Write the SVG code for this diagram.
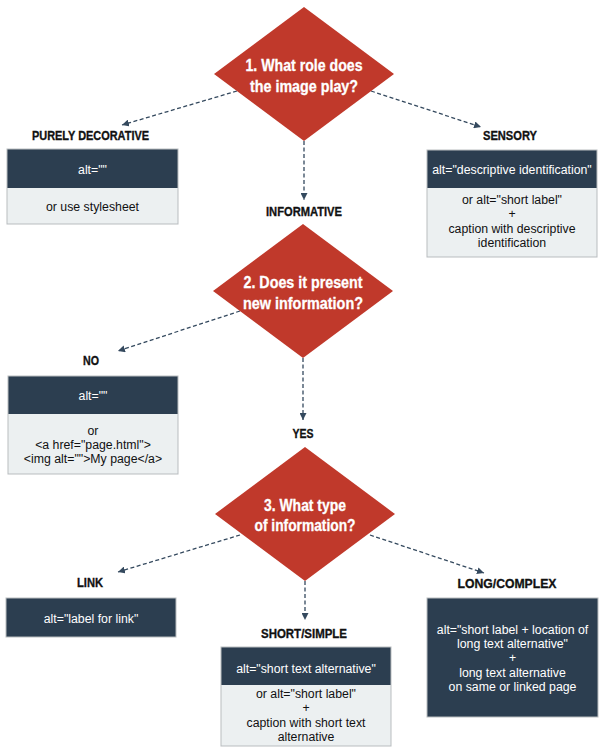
<svg xmlns="http://www.w3.org/2000/svg" width="605" height="749" viewBox="0 0 605 749">
<style>
.dia{fill:#c0392b}
.q{font-family:"Liberation Sans",Arial,sans-serif;font-weight:bold;font-size:16px;fill:#ffffff;stroke:#ffffff;stroke-width:0.3;text-anchor:middle}
.lbl{font-family:"Liberation Sans",Arial,sans-serif;font-weight:bold;font-size:13.5px;fill:#111111;stroke:#111111;stroke-width:0.35;text-anchor:middle}
.hd{fill:#2c3e50}
.bd{fill:#ecf0f1}
.frame{fill:none;stroke:#b9bdbf;stroke-width:1}
.wt{font-family:"Liberation Sans",Arial,sans-serif;font-size:12.3px;fill:#ffffff;text-anchor:middle}
.bt{font-family:"Liberation Sans",Arial,sans-serif;font-size:12.3px;fill:#111111;text-anchor:middle}
.con{fill:none;stroke:#34495e;stroke-width:1.3;stroke-dasharray:4 2.5}
</style>
<defs>
<marker id="arr" viewBox="0 0 10 10" refX="10" refY="5" markerWidth="7" markerHeight="7" markerUnits="userSpaceOnUse" orient="auto">
<path d="M0,0 L10,5 L0,10 z" fill="#34495e"/>
</marker>
</defs>
<rect width="605" height="749" fill="#ffffff"/>

<g id="connectors">
<line class="con" x1="237" y1="91" x2="122" y2="125" marker-end="url(#arr)"/>
<line class="con" x1="371" y1="91" x2="481" y2="127" marker-end="url(#arr)"/>
<line class="con" x1="304" y1="141" x2="304" y2="200" marker-end="url(#arr)"/>
<line class="con" x1="240" y1="311" x2="118" y2="351" marker-end="url(#arr)"/>
<line class="con" x1="303" y1="358" x2="303" y2="420" marker-end="url(#arr)"/>
<line class="con" x1="240" y1="535" x2="118" y2="572" marker-end="url(#arr)"/>
<line class="con" x1="370" y1="535" x2="484" y2="573" marker-end="url(#arr)"/>
<line class="con" x1="305" y1="581" x2="305" y2="620" marker-end="url(#arr)"/>
</g>

<g id="q1">
<polygon class="dia" points="304,7 394,74 304,141 214,74"/>
<text class="q" x="304" y="71" textLength="117" lengthAdjust="spacingAndGlyphs">1. What role does</text>
<text class="q" x="304" y="92" textLength="108" lengthAdjust="spacingAndGlyphs">the image play?</text>
</g>

<g id="q2">
<polygon class="dia" points="303,224 393,291 303,358 213,291"/>
<text class="q" x="303" y="288" textLength="119" lengthAdjust="spacingAndGlyphs">2. Does it present</text>
<text class="q" x="303" y="309" textLength="120" lengthAdjust="spacingAndGlyphs">new information?</text>
</g>

<g id="q3">
<polygon class="dia" points="305,447 395,514 305,581 215,514"/>
<text class="q" x="305" y="511" textLength="82" lengthAdjust="spacingAndGlyphs">3. What type</text>
<text class="q" x="305" y="531" textLength="101" lengthAdjust="spacingAndGlyphs">of information?</text>
</g>

<g id="decorative">
<text class="lbl" x="90.5" y="140" textLength="117" lengthAdjust="spacingAndGlyphs">PURELY DECORATIVE</text>
<rect class="hd" x="7" y="149" width="171" height="39"/>
<rect class="bd" x="7" y="188" width="171" height="36"/>
<rect class="frame" x="7" y="149" width="171" height="75"/>
<text class="wt" x="92.5" y="174">alt=""</text>
<text class="bt" x="92.5" y="211">or use stylesheet</text>
</g>

<g id="sensory">
<text class="lbl" x="510" y="140" textLength="54" lengthAdjust="spacingAndGlyphs">SENSORY</text>
<rect class="hd" x="427" y="150" width="170" height="38"/>
<rect class="bd" x="427" y="188" width="170" height="69"/>
<rect class="frame" x="427" y="150" width="170" height="107"/>
<text class="wt" x="512" y="174">alt="descriptive identification"</text>
<text class="bt" x="512" y="204">or alt="short label"</text>
<text class="bt" x="512" y="218">+</text>
<text class="bt" x="512" y="233">caption with descriptive</text>
<text class="bt" x="512" y="247">identification</text>
</g>

<g id="informative">
<text class="lbl" x="304" y="216" textLength="76" lengthAdjust="spacingAndGlyphs">INFORMATIVE</text>
</g>

<g id="no">
<text class="lbl" x="91" y="365" textLength="16" lengthAdjust="spacingAndGlyphs">NO</text>
<rect class="hd" x="8" y="376" width="170" height="38"/>
<rect class="bd" x="8" y="414" width="170" height="60"/>
<rect class="frame" x="8" y="376" width="170" height="98"/>
<text class="wt" x="93" y="400">alt=""</text>
<text class="bt" x="93" y="435">or</text>
<text class="bt" x="93" y="449">&lt;a href="page.html"&gt;</text>
<text class="bt" x="93" y="463">&lt;img alt=""&gt;My page&lt;/a&gt;</text>
</g>

<g id="yes">
<text class="lbl" x="303" y="438" textLength="21" lengthAdjust="spacingAndGlyphs">YES</text>
</g>

<g id="link">
<text class="lbl" x="90" y="587" textLength="26" lengthAdjust="spacingAndGlyphs">LINK</text>
<rect class="hd" x="6" y="598" width="170" height="39"/>
<rect class="frame" x="6" y="598" width="170" height="39"/>
<text class="wt" x="91" y="623">alt="label for link"</text>
</g>

<g id="short">
<text class="lbl" x="304" y="638" textLength="86" lengthAdjust="spacingAndGlyphs">SHORT/SIMPLE</text>
<rect class="hd" x="221" y="647" width="170" height="38"/>
<rect class="bd" x="221" y="685" width="170" height="61"/>
<rect class="frame" x="221" y="647" width="170" height="99"/>
<text class="wt" x="306" y="673">alt="short text alternative"</text>
<text class="bt" x="306" y="698">or alt="short label"</text>
<text class="bt" x="306" y="712">+</text>
<text class="bt" x="306" y="727">caption with short text</text>
<text class="bt" x="306" y="741">alternative</text>
</g>

<g id="long">
<text class="lbl" x="507" y="588" textLength="99" lengthAdjust="spacingAndGlyphs">LONG/COMPLEX</text>
<rect class="hd" x="427" y="598" width="171" height="119"/>
<rect class="frame" x="427" y="598" width="171" height="119"/>
<text class="wt" x="512.5" y="634">alt="short label + location of</text>
<text class="wt" x="512.5" y="648">long text alternative"</text>
<text class="wt" x="512.5" y="662">+</text>
<text class="wt" x="512.5" y="677">long text alternative</text>
<text class="wt" x="512.5" y="691">on same or linked page</text>
</g>
</svg>
